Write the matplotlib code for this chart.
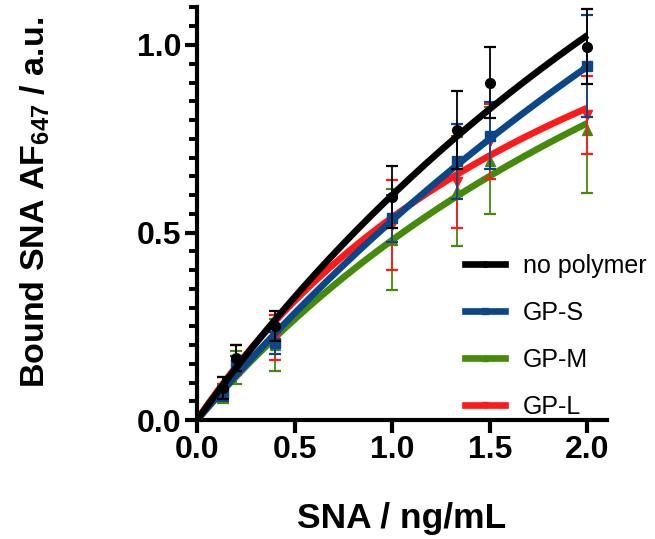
import numpy as np
import matplotlib
matplotlib.use('Agg')
import matplotlib.pyplot as plt
from matplotlib.lines import Line2D

# ---- data ----
conc = [0.133, 0.2, 0.4, 1.0, 1.333, 1.5, 2.0]
series_names = ['no polymer', 'GP-S', 'GP-M', 'GP-L']
nopoly_mean = [0.085, 0.165, 0.25, 0.595, 0.773, 0.90, 0.995]
nopoly_sd = [0.03, 0.035, 0.04, 0.083, 0.105, 0.095, 0.10]
gps_mean = [0.072, 0.15, 0.205, 0.538, 0.69, 0.758, 0.944]
gps_sd = [0.02, 0.02, 0.03, 0.063, 0.10, 0.09, 0.137]
gpm_mean = [0.07, 0.14, 0.20, 0.481, 0.61, 0.692, 0.773]
gpm_sd = [0.025, 0.045, 0.07, 0.134, 0.145, 0.143, 0.168]
gpl_mean = [0.085, 0.16, 0.22, 0.52, 0.635, 0.743, 0.813]
gpl_sd = [0.03, 0.04, 0.06, 0.12, 0.122, 0.10, 0.104]
# one-site binding fit parameters (Bmax, Kd)
fit_bmax = [3.54, 4.1, 2.26, 1.81]
fit_kd = [4.9, 6.7, 3.71, 2.35]

x_ticks = [0.0, 0.5, 1.0, 1.5, 2.0]
y_ticks = [0.0, 0.5, 1.0]

means = [nopoly_mean, gps_mean, gpm_mean, gpl_mean]
sds = [nopoly_sd, gps_sd, gpm_sd, gpl_sd]
colors = ['#000000', '#0b4788', '#458a0a', '#ff1a1a']
markers = ['o', 's', '^', 'v']
zorders = [8, 7, 5, 6]

plt.rcParams['font.family'] = ['Liberation Sans', 'DejaVu Sans']
plt.rcParams['mathtext.fontset'] = 'custom'
plt.rcParams['mathtext.bf'] = 'Liberation Sans:bold'
plt.rcParams['mathtext.rm'] = 'Liberation Sans:bold'
plt.rcParams['mathtext.default'] = 'bf'

fig = plt.figure(figsize=(6.55, 5.39), dpi=100)
ax = fig.add_axes([197/655, 1-420/539, 410/655, 412.5/539])

xs = np.linspace(0, 2.0, 200)
for m, s, c, mk, z, bm, kd in zip(means, sds, colors, markers, zorders, fit_bmax, fit_kd):
    ax.errorbar(conc, m, yerr=s, fmt='none', ecolor=c, elinewidth=1.3,
                capsize=4.5, capthick=1.6, zorder=z, clip_on=False)
    ax.plot(conc, m, linestyle='none', marker=mk, color=c, markersize=7, zorder=z)
    ax.plot(xs, bm*xs/(kd+xs), color=c, lw=4.8, zorder=z, solid_capstyle='butt')

ax.set_xlim(0, 2.1)
ax.set_ylim(0, 1.1)
ax.set_xticks(x_ticks)
ax.set_xticklabels([f'{v:.1f}' for v in x_ticks])
ax.set_yticks(y_ticks)
ax.set_yticklabels([f'{v:.1f}' for v in y_ticks])
ax.set_yticks(np.arange(0, 1.1001, 0.05), minor=True)

for sp in ['top', 'right']:
    ax.spines[sp].set_visible(False)
for sp in ['left', 'bottom']:
    ax.spines[sp].set_linewidth(3.0)

ax.tick_params(axis='both', which='major', direction='out', length=9, width=3,
               labelsize=23, pad=2)
ax.tick_params(axis='y', which='minor', direction='out', length=6, width=2.8)
for lab in ax.get_xticklabels() + ax.get_yticklabels():
    lab.set_fontweight('bold')

ax.set_xlabel('SNA / ng/mL', fontsize=25.5, fontweight='bold')
ax.set_ylabel(r'Bound SNA AF$_{647}$ / a.u.', fontsize=24.5, fontweight='bold')
ax.xaxis.set_label_coords(0.5, -0.198)
ax.yaxis.set_label_coords(-0.354, 0.528)

handles = [Line2D([0], [0], color=c, lw=4.8, marker=mk, markersize=4)
           for c, mk in zip(colors, markers)]
ax.legend(handles, series_names, loc='upper left', bbox_to_anchor=(0.654, 0.402),
          frameon=False, fontsize=18, handlelength=1.6, labelspacing=0.92,
          handletextpad=0.72, borderpad=0, borderaxespad=0)

fig.savefig('out.png', dpi=100)
